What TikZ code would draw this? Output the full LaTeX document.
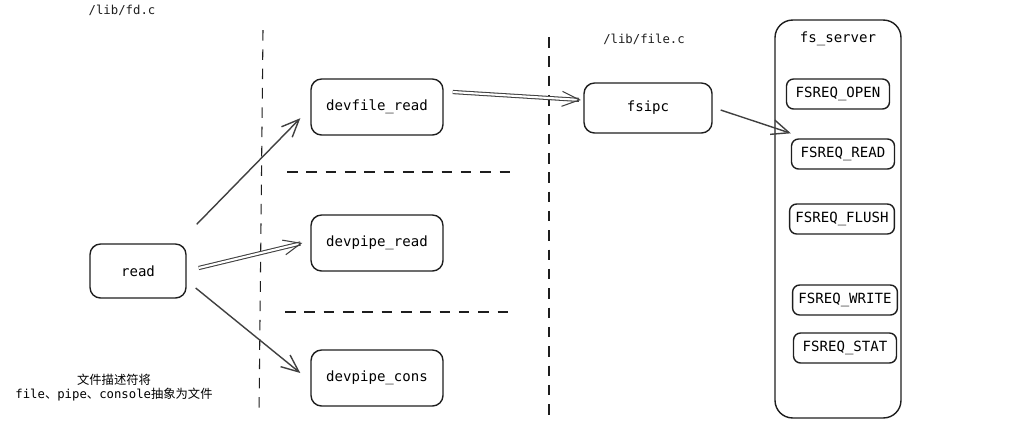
\documentclass[tikz,border=0pt]{standalone}
\usepackage{fontspec}
\setmonofont{DejaVu Sans Mono}
\newfontfamily\cjk{Noto Sans CJK SC}
\usetikzlibrary{arrows.meta, positioning}
\definecolor{inkgrey}{HTML}{1e1e1e}
\tikzset{
  fnbox/.style={rectangle, draw=inkgrey, thick, rounded corners=6pt,
                minimum width=2.64cm, minimum height=1.12cm,
                align=center, font=\ttfamily\footnotesize},
  reqbox/.style={rectangle, draw=inkgrey, thick, rounded corners=4pt,
                 minimum width=2.06cm, minimum height=0.6cm,
                 align=center, font=\ttfamily\footnotesize},
  srvbox/.style={rectangle, draw=inkgrey, thick, rounded corners=10pt,
                 minimum width=2.52cm, minimum height=7.96cm},
  fileref/.style={font=\ttfamily\scriptsize, text=inkgrey},
  sep/.style={semithick, draw=inkgrey, dash pattern=on 6pt off 5pt},
  call/.style={-{Straight Barb[length=3.5mm,width=3mm]}, thick, draw=inkgrey!85},
  ipc/.style={-{Straight Barb[length=3.5mm,width=3mm]}, draw=inkgrey!85,
              double, double distance=1.2pt, semithick},
}
\begin{document}
\begin{tikzpicture}[x=0.02cm, y=-0.02cm]
  \useasboundingbox (0,0) rectangle (1013,437);

  % layer separators
  \coordinate (s1a) at (263,30);  \coordinate (s1b) at (259,415);
  \coordinate (s2a) at (549,37);  \coordinate (s2b) at (549,415);
  \coordinate (h1a) at (287,172); \coordinate (h1b) at (515,172);
  \coordinate (h2a) at (285,312); \coordinate (h2b) at (514,312);
  \draw[sep] (s1a) -- (s1b);
  \draw[sep] (s2a) -- (s2b);
  \draw[sep] (h1a) -- (h1b);
  \draw[sep] (h2a) -- (h2b);

  % /lib/fd.c
  \node[fileref] (fdc) at (122,10) {/lib/fd.c};
  \node[fnbox, minimum width=1.92cm, minimum height=1.08cm] (read) at (138,271) {read};
  \node[font=\scriptsize, align=center] (note) at (114,388)
    {{\cjk 文件描述符将}\\\ttfamily file{\cjk 、}pipe{\cjk 、}console{\cjk 抽象为文件}};

  \node[fnbox] (devfile) at (377,107) {devfile\_read};
  \node[fnbox] (devpipe) at (377,243) {devpipe\_read};
  \node[fnbox] (devcons) at (377,378) {devpipe\_cons};

  % /lib/file.c
  \node[fileref] (filec) at (644,39) {/lib/file.c};
  \node[fnbox, minimum width=2.56cm, minimum height=1cm] (fsipc) at (648,108) {fsipc};

  % file system server
  \node[srvbox] (srv) at (838,219) {};
  \node[font=\ttfamily\footnotesize, anchor=north] (srvlab) at ([yshift=-0.12cm]srv.north) {fs\_server};
  \node[reqbox] (open)  at (838,94)  {FSREQ\_OPEN};
  \node[reqbox] (rd)    at (843,154) {FSREQ\_READ};
  \node[reqbox] (flush) at (842,219) {FSREQ\_FLUSH};
  \node[reqbox] (wr)    at (845,300) {FSREQ\_WRITE};
  \node[reqbox] (stat)  at (845,348) {FSREQ\_STAT};

  % calls
  \draw[call] ([xshift=0.2cm,yshift=0.38cm]read.north east) -- ([xshift=-0.2cm,yshift=0.35cm]devfile.south west);
  \draw[ipc]  ([xshift=0.24cm,yshift=0.06cm]read.east) -- ([xshift=-0.16cm]devpipe.west);
  \draw[call] ([xshift=0.18cm,yshift=-0.34cm]read.east) -- ([xshift=-0.2cm,yshift=0.1cm]devcons.west);
  \draw[ipc]  ([xshift=0.18cm,yshift=0.3cm]devfile.east) -- ([xshift=-0.05cm,yshift=0.16cm]fsipc.west);
  \draw[call] ([xshift=0.16cm,yshift=-0.04cm]fsipc.east) -- ([yshift=0.1cm]rd.north west);
\end{tikzpicture}
\end{document}
